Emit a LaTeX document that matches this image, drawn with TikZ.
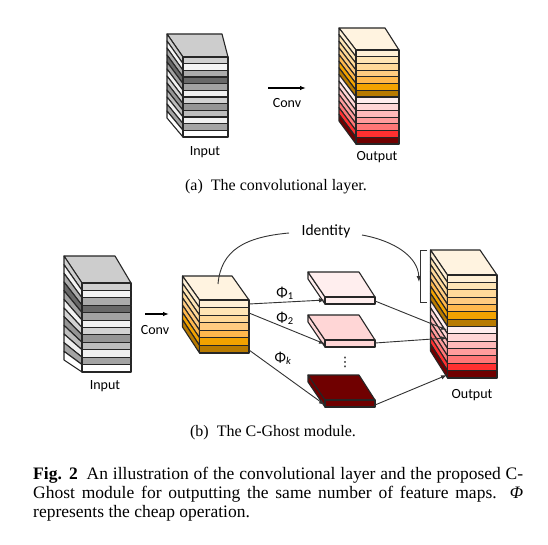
\documentclass[tikz,border=0pt]{standalone}
\usepackage{fontspec}
\setmainfont{Liberation Serif}
\newfontfamily\lblfont{Carlito}
\newfontfamily\symfont{DejaVu Sans}
\usetikzlibrary{arrows.meta}
\definecolor{g1}{HTML}{CFCFCF}
\definecolor{g2}{HTML}{F4F4F4}
\definecolor{g3}{HTML}{ABABAB}
\definecolor{g4}{HTML}{686868}
\definecolor{g5}{HTML}{A2A2A2}
\definecolor{g6}{HTML}{F2F2F2}
\definecolor{g7}{HTML}{D2D2D2}
\definecolor{g8}{HTML}{959595}
\definecolor{g9}{HTML}{BDBDBD}
\definecolor{g10}{HTML}{F0F0F0}
\definecolor{g11}{HTML}{A4A4A4}
\definecolor{g12}{HTML}{FFFFFF}
\definecolor{gtop}{HTML}{CDCDCD}
\definecolor{otop}{HTML}{FFF3E0}
\definecolor{o1}{HTML}{FFF0D6}
\definecolor{o2}{HTML}{FFE5B5}
\definecolor{o3}{HTML}{FFD999}
\definecolor{o4}{HTML}{FFCB80}
\definecolor{o5}{HTML}{FFB84D}
\definecolor{o6}{HTML}{F2A200}
\definecolor{o7}{HTML}{B87A00}
\definecolor{r1}{HTML}{FFEEEE}
\definecolor{r2}{HTML}{FFD6D6}
\definecolor{r3}{HTML}{FFB9B9}
\definecolor{r4}{HTML}{FF9C9C}
\definecolor{r5}{HTML}{FF7676}
\definecolor{r6}{HTML}{FF3030}
\definecolor{r7}{HTML}{700000}
\definecolor{edgecol}{HTML}{262626}
\definecolor{wirecol}{HTML}{333333}
\tikzset{
  blk/.style={draw=edgecol, line width=1.1pt, line join=round},
  wireline/.style={draw=wirecol, line width=0.9pt},
  arrowtip/.style={-{Latex[length=6pt,width=4.5pt]}},
  lbl/.style={font=\lblfont\fontsize{14}{16}\selectfont, text=black, inner sep=0pt},
  captext/.style={font=\fontsize{16}{19}\selectfont, inner sep=0pt},
}
% #1 = geometry fxL/fxR/fyT/fyB/bx/byT/byB/bxR, #2 = top colour, #3 = stripe colours
\newcommand\drawstack[3]{%
  \foreach \c [count=\k] in {#3} {\xdef\ncol{\k}}
  \foreach \fxL/\fxR/\fyT/\fyB/\bx/\byT/\byB/\bxR in {#1} {
    \filldraw[blk, fill=#2] (\bx,\byT) -- (\bxR,\byT) -- (\fxR,\fyT) -- (\fxL,\fyT) -- cycle;
    \foreach \c [count=\k from 0] in {#3} {
      \pgfmathsetmacro\ya{\fyT+(\fyB-\fyT)*\k/\ncol}
      \pgfmathsetmacro\yb{\fyT+(\fyB-\fyT)*(\k+1)/\ncol}
      \pgfmathsetmacro\za{\byT+(\byB-\byT)*\k/\ncol}
      \pgfmathsetmacro\zb{\byT+(\byB-\byT)*(\k+1)/\ncol}
      \filldraw[blk, fill=\c] (\bx,\za) -- (\fxL,\ya) -- (\fxL,\yb) -- (\bx,\zb) -- cycle;
      \filldraw[blk, fill=\c] (\fxL,\ya) rectangle (\fxR,\yb);
    }
  }%
}
% slab: #1 back-left x, #2 back y, #3 colour
\newcommand\drawslab[3]{%
  \filldraw[blk, fill=#3] (#1,#2) -- (#1+17,#2+25) -- (#1+17,#2+32) -- (#1,#2+7) -- cycle;
  \filldraw[blk, fill=#3] (#1,#2) -- (#1+51,#2) -- (#1+67,#2+25) -- (#1+17,#2+25) -- cycle;
  \filldraw[blk, fill=#3] (#1+17,#2+25) rectangle (#1+67,#2+32);
}
\begin{document}
\begin{tikzpicture}[x=1pt,y=-1pt]
\useasboundingbox[fill=white] (0,0) rectangle (548,545);

% ---------- (a) ----------
\drawstack{183/228/57/137/167/34/118/222}{gtop}{g1,g2,g3,g4,g5,g6,g7,g8,g9,g10,g11,g12}
\drawstack{356/399/50/144/339/28/121/385}{otop}{o1,o2,o3,o4,o5,o6,o7,r1,r2,r3,r4,r5,r6,r7}
\node[lbl] (inA) at (205,152) {Input};
\node[lbl] (outA) at (377,157) {Output};
\coordinate (convAs) at (268,88);
\coordinate (convAe) at (306,88);
\draw[line width=1.3pt, arrowtip] (convAs) -- (convAe);
\node[lbl] (convA) at (287,103) {Conv};
\node[captext, anchor=base] (capA) at (276,191) {(a)\enspace The convolutional layer.};

% ---------- (b) ----------
\drawstack{82/131/283/372/64/256/360/115}{gtop}{g1,g2,g3,g4,g5,g6,g7,g8,g9,g10,g11,g12}
\node[lbl] (inB) at (105,386) {Input};
\coordinate (convBs) at (145,314);
\coordinate (convBe) at (169,314);
\draw[line width=1.3pt, arrowtip] (convBs) -- (convBe);
\node[lbl] (convB) at (155,330) {Conv};

\drawstack{199.5/249/300/353/182.5/276/327/232}{otop}{o1,o2,o3,o4,o5,o6,o7}

\drawslab{308}{272}{r1}
\drawslab{308}{315}{r2}
\drawslab{308}{375}{r7}
\node[inner sep=0pt, font=\symfont\fontsize{13}{13}\selectfont] (dots) at (345,362) {⋮};

\drawstack{447.5/497/275/378/430.5/250/351/480}{otop}{o1,o2,o3,o4,o5,o6,o7,r1,r2,r3,r4,r5,r6,r7}
\node[lbl] (outB) at (472,395) {Output};

% bracket
\coordinate (brT) at (427,250);
\coordinate (brB) at (427,302);
\draw[wireline, line width=1pt] (brT) -- ++(-7,0) |- (brB);

% identity
\coordinate (idS) at (218,284);
\coordinate (idA) at (289,233);
\coordinate (idB) at (362,235);
\coordinate (idE) at (419,282);
\node[lbl, font=\lblfont\fontsize{15.5}{16}\selectfont] (ident) at (326,231) {Identity};
\draw[wireline] (idS) .. controls (221,250) and (245,237) .. (idA);
\draw[wireline, arrowtip] (idB) .. controls (395,241) and (418,257) .. (idE);

% cheap ops
\coordinate (m1) at (249,304);
\coordinate (m2) at (249,313);
\coordinate (m3) at (249,350);
\coordinate (s1in) at (325,300);
\coordinate (s2in) at (325,344);
\coordinate (s3in) at (325,405);
\coordinate (s1out) at (375,301);
\coordinate (s2out) at (375,343);
\coordinate (s3out) at (375,405);
\coordinate (o1in) at (447,330);
\coordinate (o2in) at (447,338);
\coordinate (o3in) at (447,375);
\draw[wireline, arrowtip] (m1) -- (s1in);
\draw[wireline, arrowtip] (m2) -- (s2in);
\draw[wireline, arrowtip] (m3) -- (s3in);
\draw[wireline, arrowtip] (s1out) -- (o1in);
\draw[wireline, arrowtip] (s2out) -- (o2in);
\draw[wireline, arrowtip] (s3out) -- (o3in);
\node[lbl, font=\lblfont\fontsize{15}{16}\selectfont] (phi1) at (285,293) {Φ\textsubscript{1}};
\node[lbl, font=\lblfont\fontsize{15}{16}\selectfont] (phi2) at (285,318) {Φ\textsubscript{2}};
\node[lbl, font=\lblfont\fontsize{15}{16}\selectfont] (phik) at (283,358) {Φ\textsubscript{\itshape k}};

\node[captext, anchor=base] (capB) at (273,436) {(b)\enspace The C-Ghost module.};

% figure caption
\node[captext, font=\fontsize{17.5}{19}\selectfont, text width=490pt, align=justify, anchor=base west] (figcap) at (33,479)
 {\textbf{Fig. 2}\hspace{0.5em}An illustration of the convolutional layer and the proposed C-\linebreak
  Ghost module for outputting the same number of feature maps. {\itshape Φ}\linebreak
  represents the cheap operation.};
\end{tikzpicture}
\end{document}
